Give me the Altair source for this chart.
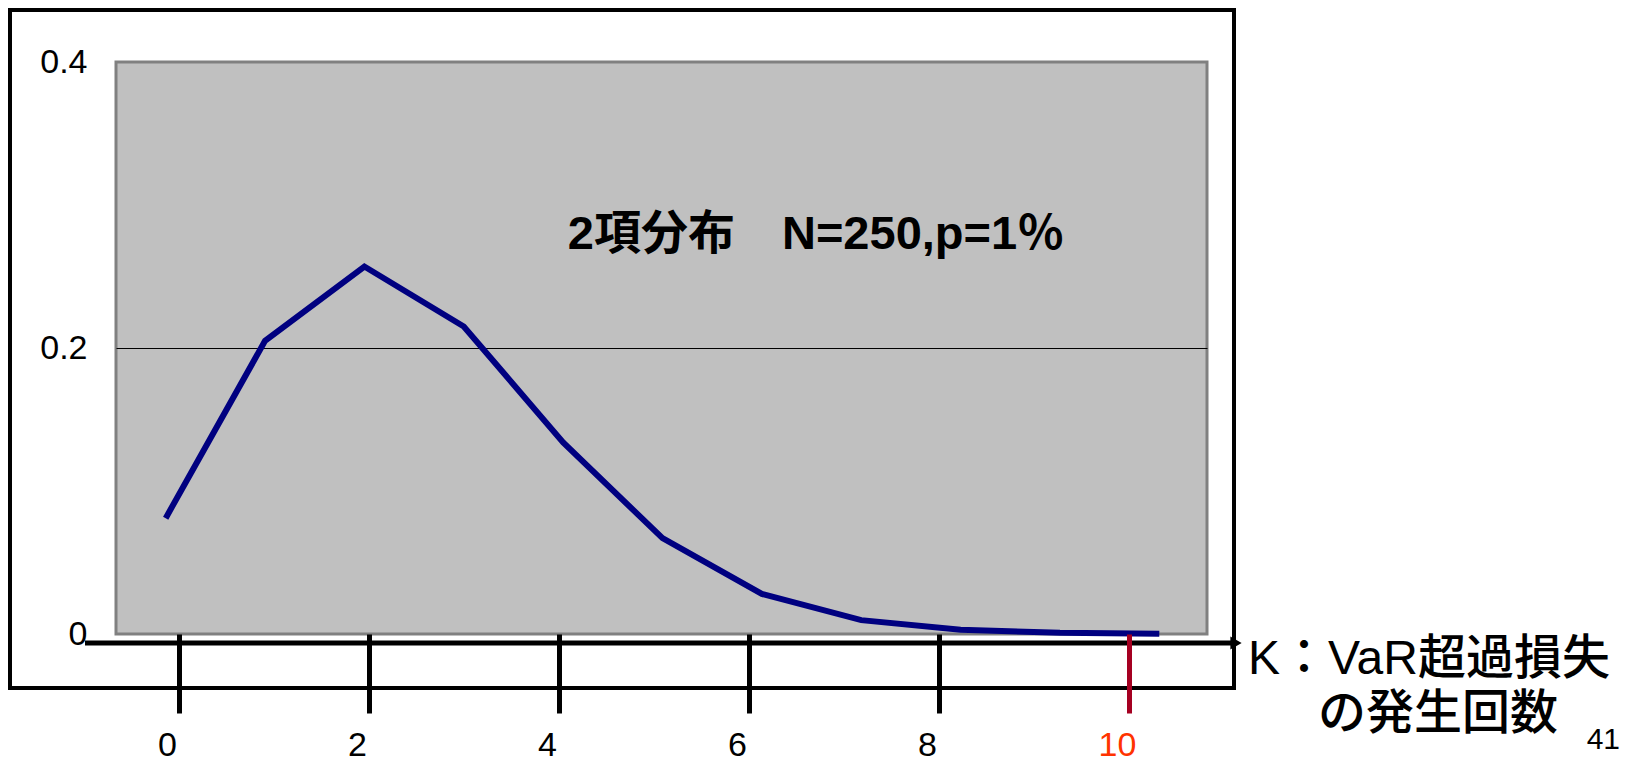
import altair as alt
import pandas as pd

# ---- data ----
k_values = [0, 1, 2, 3, 4, 5, 6, 7, 8, 9, 10]
probabilities = [0.081, 0.205, 0.257, 0.215, 0.134, 0.067, 0.028, 0.0097, 0.0030, 0.0008, 0.0002]
y_ticks = [0, 0.2, 0.4]
x_ticks = [0, 2, 4, 6, 8, 10]
highlight_k = 10
title_text = "2項分布　N=250,p=1％"
axis_title_lines = ["K：VaR超過損失", "の発生回数"]
page_number = "41"

W, H = 1091, 572
MIXED_FONT = "Liberation Sans, Noto Sans CJK JP"

df = pd.DataFrame({"k": k_values, "p": probabilities})
tick_df = pd.DataFrame({"k": x_ticks})

line = alt.Chart(df).mark_line(color="#000080", strokeWidth=6).encode(
    x=alt.X("k:Q", scale=alt.Scale(domain=[-0.5, 10.48], nice=False, zero=False), axis=None),
    y=alt.Y(
        "p:Q",
        scale=alt.Scale(domain=[0, 0.4], nice=False),
        axis=alt.Axis(
            values=y_ticks, format="~g", orient="left", domain=False, ticks=False,
            grid=True, gridColor="#000000", gridWidth=1,
            gridOpacity={"condition": {"test": "datum.value > 0.01 && datum.value < 0.39", "value": 1}, "value": 0},
            labelFont="Liberation Sans", labelFontSize=34, labelColor="#000000",
            labelPadding=29, title=None,
        ),
    ),
)

tick_cond_color = {"condition": {"test": f"datum.value === {highlight_k}", "value": "#A50021"}, "value": "#000000"}
label_cond_color = {"condition": {"test": f"datum.value === {highlight_k}", "value": "#FF3300"}, "value": "#000000"}

ticks_layer = alt.Chart(tick_df).mark_point(opacity=0).encode(
    x=alt.X(
        "k:Q",
        scale=alt.Scale(domain=[-0.663, 10.821], nice=False, zero=False),
        axis=alt.Axis(
            orient="bottom", values=x_ticks, domain=False, grid=False,
            ticks=True, tickSize=79, tickWidth=5, tickColor=tick_cond_color,
            labelColor=label_cond_color, labelFont="Liberation Sans", labelFontSize=34,
            labelPadding=15, labelOffset=-12, labelBaseline="top", labelFlush=False,
            title=None, zindex=3,
        ),
    ),
)

one = pd.DataFrame({"t": [""]})

outer_box = alt.Chart(one).mark_rect(fillOpacity=0, stroke="#000000", strokeWidth=4).encode(
    x=alt.value(-106), x2=alt.value(1118), y=alt.value(-52), y2=alt.value(626)
)

arrow_line = alt.Chart(one).mark_rule(color="#000000", strokeWidth=5).encode(
    x=alt.value(-31), x2=alt.value(1116), y=alt.value(581)
)

arrow_head = alt.Chart(one).mark_point(shape="triangle-right", filled=True, color="#000000", opacity=1, size=170).encode(
    x=alt.value(1120), y=alt.value(581)
)

title = alt.Chart(pd.DataFrame({"t": [title_text]})).mark_text(
    font=MIXED_FONT, fontWeight="bold", fontSize=47, color="#000000",
    align="center", baseline="middle",
).encode(text="t:N", x=alt.value(700), y=alt.value(173))

axis_title1 = alt.Chart(pd.DataFrame({"t": [axis_title_lines[0]]})).mark_text(
    font=MIXED_FONT, fontWeight=500, fontSize=48, color="#000000",
    align="center", baseline="middle",
).encode(text="t:N", x=alt.value(1313), y=alt.value(598))

axis_title2 = alt.Chart(pd.DataFrame({"t": [axis_title_lines[1]]})).mark_text(
    font=MIXED_FONT, fontWeight=500, fontSize=48, color="#000000",
    align="center", baseline="middle",
).encode(text="t:N", x=alt.value(1322), y=alt.value(653))

page = alt.Chart(pd.DataFrame({"t": [page_number]})).mark_text(
    font="Liberation Sans", fontSize=30, color="#000000", align="right", baseline="middle",
).encode(text="t:N", x=alt.value(1504), y=alt.value(678))

chart = alt.layer(
    outer_box, line, arrow_line, arrow_head, ticks_layer, title, axis_title1, axis_title2, page
).resolve_scale(x="independent").properties(
    width=W, height=H,
    autosize=alt.AutoSizeParams(type="none"),
    padding={"left": 108, "top": 54, "right": 415, "bottom": 133},
    background="#FFFFFF",
).configure_view(
    fill="#C0C0C0", stroke="#808080", strokeWidth=3
)

chart.save("out.html", embed_options={"renderer": "svg", "actions": False})
